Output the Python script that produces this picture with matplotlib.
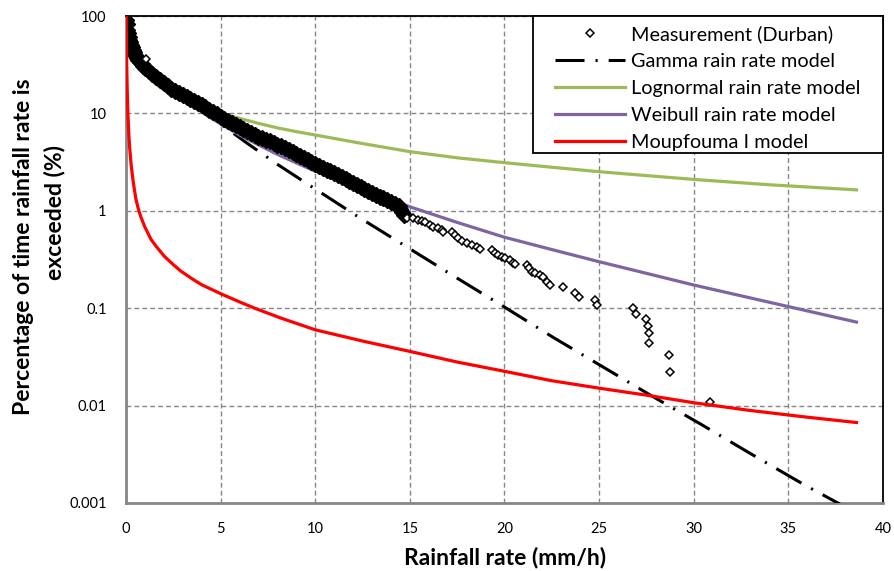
import matplotlib
matplotlib.use("Agg")
import matplotlib.pyplot as plt
from matplotlib.lines import Line2D
from matplotlib.patches import Rectangle

plt.rcParams['font.family'] = ['Lato', 'DejaVu Sans']

# ---- measured exceedance (Durban): dense part of the record ----
meas_dense_x = [0.0, 0.03, 0.07, 0.1, 0.14, 0.17, 0.21, 0.26, 0.3, 0.35, 0.42, 0.5,
                0.58, 0.65, 0.73, 0.82, 0.9, 1.0, 1.2, 1.4, 1.6, 1.8, 2.0, 2.2, 2.4,
                2.6, 2.8, 3.0, 3.2, 3.4, 3.6, 3.8, 4.0, 4.2, 4.4, 4.6, 4.8, 5.0, 5.2,
                5.4, 5.6, 5.8, 6.0, 6.2, 6.4, 6.6, 6.8, 7.0, 7.2, 7.4, 7.6, 7.8, 8.0,
                8.2, 8.4, 8.6, 8.8, 9.0, 9.2, 9.4, 9.6, 9.8, 10.0, 10.2, 10.4, 10.6,
                10.8, 11.0, 11.2, 11.4, 11.6, 11.8, 12.0, 12.2, 12.4, 12.6, 12.8, 13.0,
                13.2, 13.4, 13.6, 13.8, 14.0, 14.2, 14.4, 14.5, 14.6, 14.7]
meas_dense_y = [91, 82, 72, 67, 61, 57, 54, 50.6, 48, 45, 42.5, 39.8,
                37.3, 35.3, 33.7, 32.1, 30.7, 29, 27.0, 25.1, 23.4, 21.8, 20.4, 19.1, 18.0,
                17.0, 16.2, 15.5, 14.8, 14.1, 13.5, 12.8, 12.2, 11.5, 10.9, 10.3, 9.75, 9.22, 8.78,
                8.36, 7.95, 7.57, 7.21, 6.86, 6.53, 6.24, 6.00, 5.78, 5.56, 5.35, 5.15, 4.96, 4.77,
                4.59, 4.40, 4.21, 4.02, 3.84, 3.66, 3.49, 3.34, 3.18, 3.04, 2.90, 2.77, 2.65,
                2.54, 2.42, 2.31, 2.21, 2.11, 2.02, 1.93, 1.84, 1.76, 1.68, 1.61, 1.54,
                1.47, 1.40, 1.34, 1.28, 1.22, 1.17, 1.12, 1.05, 0.97, 0.90]

# ---- measured exceedance (Durban): isolated points ----
meas_tail_x = [1.06, 14.83, 15.18, 15.45, 15.62, 15.80, 16.06, 16.24, 16.50, 16.68, 16.77,
               17.21, 17.38, 17.56, 17.74, 18.00, 18.27, 18.53, 18.71, 19.32, 19.50,
               19.67, 19.85, 20.03, 20.29, 20.47, 20.55, 21.17, 21.31, 21.44, 21.61,
               21.88, 22.05, 22.23, 22.40, 23.11, 23.73, 23.95, 24.78, 24.87, 26.77,
               26.95, 27.46, 27.60, 27.65, 27.65, 28.71, 28.75, 30.86]
meas_tail_y = [35.9, 0.837, 0.837, 0.806, 0.793, 0.773, 0.715, 0.687, 0.661, 0.635, 0.61,
               0.61, 0.565, 0.522, 0.493, 0.463, 0.446, 0.422, 0.405, 0.396, 0.366,
               0.351, 0.338, 0.325, 0.313, 0.293, 0.282, 0.278, 0.257, 0.237, 0.228,
               0.219, 0.211, 0.187, 0.173, 0.166, 0.142, 0.131, 0.121, 0.108, 0.0997,
               0.0871, 0.0769, 0.0661, 0.0552, 0.0442, 0.0331, 0.0223, 0.0108]

# ---- model curves ----
gamma_x = [0.02, 0.1, 0.3, 0.6, 1, 1.5, 2, 3, 4, 5, 6.3, 8, 9.62, 12.2, 14.8, 17.4,
           19.97, 22.57, 25.18, 27.8, 30.46, 33.1, 35.76, 38.0]
gamma_y = [82, 62, 45, 35, 28, 23, 19, 14, 10.5, 7.8, 5.1, 3.0, 1.87, 0.885, 0.43, 0.209,
           0.1035, 0.0502, 0.0251, 0.0125, 0.0063, 0.00313, 0.00157, 0.00091]

lognormal_x = [0.05, 0.2, 0.4, 0.7, 1, 1.5, 2, 3, 4, 5, 6, 7, 8, 9, 10, 12.5, 15, 17.5,
               20, 22.5, 25, 27.5, 30, 34, 38.6]
lognormal_y = [75, 52, 40, 31, 26, 20.5, 17.5, 13.7, 11.5, 10.1, 8.9, 7.9, 7.1, 6.5, 6.0,
               4.9, 4.05, 3.5, 3.12, 2.8, 2.52, 2.3, 2.10, 1.85, 1.64]

weibull_x = [0.02, 0.1, 0.3, 0.6, 1, 1.5, 2, 2.68, 3.5, 4.44, 5, 6, 7, 8, 9, 10, 12.5,
             15, 17.5, 20, 22.5, 25, 27.5, 30, 34, 38.6]
weibull_y = [90, 72, 54, 42, 33, 25.5, 20.5, 15.5, 12, 9.1, 7.8, 6.0, 4.75, 3.8, 3.1, 2.55,
             1.65, 1.10, 0.76, 0.535, 0.40, 0.30, 0.228, 0.173, 0.115, 0.072]

moupfouma_x = [0.008, 0.02, 0.04, 0.06, 0.1, 0.15, 0.2, 0.27, 0.35, 0.45,
               0.53, 0.65, 0.8, 1.0, 1.32, 1.6, 2.03, 2.5, 2.9, 3.5, 4.0, 5, 6, 6.8, 8.2,
               10, 12.5, 15, 17.5, 20, 22.5, 25, 27.5, 30, 33, 36, 38.6]
moupfouma_y = [100, 60, 30, 19, 10, 6, 4.3, 3.0, 2.2, 1.62,
               1.3, 1.05, 0.85, 0.68, 0.51, 0.43, 0.34, 0.28, 0.24, 0.2, 0.174, 0.141, 0.116,
               0.1, 0.079, 0.06, 0.046, 0.036, 0.028, 0.0225, 0.018, 0.0151, 0.0128, 0.0107,
               0.0089, 0.0076, 0.0067]

x_ticks = [0, 5, 10, 15, 20, 25, 30, 35, 40]
y_ticks = [0.001, 0.01, 0.1, 1, 10, 100]
y_tick_labels = ['0.001', '0.01', '0.1', '1', '10', '100']

GREEN = '#9BBB59'
PURPLE = '#8064A2'
RED = '#FF0000'
GRID = '#868686'

W, H = 895, 571
fig = plt.figure(figsize=(W / 100, H / 100), dpi=100)
AX_L, AX_R, AX_T, AX_B = 126, 883, 16, 503
ax = fig.add_axes([AX_L / W, 1 - AX_B / H, (AX_R - AX_L) / W, (AX_B - AX_T) / H])
ax.set_yscale('log')
ax.set_xlim(0, 40)
ax.set_ylim(0.001, 100)


def ax_frac(px, py):
    """pixel position (from top-left of figure) -> axes fraction"""
    return (px - AX_L) / (AX_R - AX_L), (AX_B - py) / (AX_B - AX_T)


ax.grid(True, which='major', color=GRID, linestyle=(0, (3.5, 2.2)), linewidth=1.0)
ax.minorticks_off()
ax.set_axisbelow(True)

# measured points
ax.plot(meas_dense_x, meas_dense_y, linestyle='none', marker='D', markersize=8.5,
        markerfacecolor='black', markeredgecolor='black', markeredgewidth=1.0, zorder=4)
ax.plot(meas_tail_x, meas_tail_y, linestyle='none', marker='D', markersize=3.6,
        markerfacecolor='white', markeredgecolor='black', markeredgewidth=1.1, zorder=4)

# models
ln_gamma, = ax.plot(gamma_x, gamma_y, color='black', linewidth=2.2, zorder=3)
ln_gamma.set_dashes([9.5, 3.6, 0.7, 3.6])
ax.plot(lognormal_x, lognormal_y, color=GREEN, linewidth=2.3, zorder=3)
ax.plot(weibull_x, weibull_y, color=PURPLE, linewidth=2.3, zorder=3)
ax.plot(moupfouma_x, moupfouma_y, color=RED, linewidth=2.3, zorder=4.5)

ax.set_xticks(x_ticks)
ax.set_xticklabels([str(t) for t in x_ticks])
ax.set_yticks(y_ticks)
ax.set_yticklabels(y_tick_labels)
ax.tick_params(axis='both', length=0, labelsize=10.5, colors='black')
ax.tick_params(axis='x', pad=14)
ax.tick_params(axis='y', pad=14)

for side in ('left', 'bottom'):
    ax.spines[side].set_color(GRID)
    ax.spines[side].set_linewidth(2.0)
for side in ('top', 'right'):
    ax.spines[side].set_color('black')
    ax.spines[side].set_linewidth(1.3)

# axis titles
fig.text(505 / W, 1 - 557 / H, 'Rainfall rate (mm/h)', fontsize=16.5, fontweight='bold',
         ha='center', va='center')
fig.text(24 / W, 1 - 247 / H, 'Percentage of time rainfall rate is', fontsize=16.5,
         fontweight='bold', rotation=90, ha='center', va='center')
fig.text(55 / W, 1 - 212 / H, 'exceeded (%)', fontsize=16.5,
         fontweight='bold', rotation=90, ha='center', va='center')

# legend with a box flush to the top-right corner of the plot area
bx0, by0 = ax_frac(533, 153)
frame = Rectangle((bx0, by0), 1 - bx0, 1 - by0, transform=ax.transAxes,
                  facecolor='white', edgecolor='black', linewidth=1.3, zorder=5,
                  clip_on=False)
ax.add_patch(frame)

h_meas = Line2D([], [], linestyle='none', marker='D', markersize=3.6,
                markerfacecolor='white', markeredgecolor='black', markeredgewidth=1.1)
h_gamma = Line2D([], [], color='black', linewidth=2.2)
h_gamma.set_dashes([9.5, 3.6, 0.7, 3.6])
h_ln = Line2D([], [], color=GREEN, linewidth=2.3)
h_wb = Line2D([], [], color=PURPLE, linewidth=2.3)
h_mp = Line2D([], [], color=RED, linewidth=2.3)
lx, ly = ax_frac(555, 25)
leg = ax.legend([h_meas, h_gamma, h_ln, h_wb, h_mp],
                ['Measurement (Durban)', 'Gamma rain rate model', 'Lognormal rain rate model',
                 'Weibull rain rate model', 'Moupfouma I model'],
                loc='upper left', bbox_to_anchor=(lx, ly), borderaxespad=0.0,
                fontsize=14.3, handlelength=3.5, handletextpad=0.35, labelspacing=0.5,
                borderpad=0.0, frameon=False, numpoints=1)
leg.set_zorder(6)

fig.savefig('out.png', dpi=100)
